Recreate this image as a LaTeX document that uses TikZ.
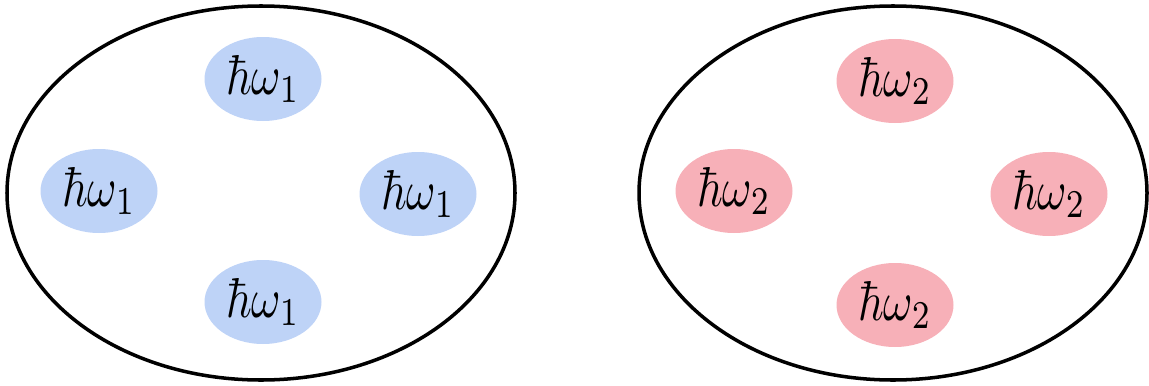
\documentclass[tikz,border=0pt]{standalone}
\usepackage{amsmath}
\usepackage{graphicx}
\usepackage{tikz}
\usetikzlibrary{shapes.geometric}

\definecolor{photonblue}{RGB}{190,211,247}
\definecolor{photonred}{RGB}{247,176,184}

\newcommand{\quantum}[1]{\scalebox{2.55}[3.2]{$\hbar\omega_{#1}$}}

\begin{document}
\begin{tikzpicture}[
    box/.style={ellipse, draw, line width=2pt, minimum width=10.16cm, minimum height=7.48cm, inner sep=0pt},
    photon/.style={ellipse, minimum width=2.34cm, minimum height=1.68cm, inner sep=0pt}
  ]
                \useasboundingbox (0,0) rectangle (22.98,7.7);

                % Boxes
                \node[box] (boxA) at (5.22,3.84) {};
                \node[box] (boxB) at (17.86,3.84) {};

                % Photons, first mode
                \node[photon, fill=photonblue] (a1) at (5.26,6.12) {\quantum{1}};
                \node[photon, fill=photonblue] (a2) at (1.98,3.88) {\quantum{1}};
                \node[photon, fill=photonblue] (a3) at (8.36,3.82) {\quantum{1}};
                \node[photon, fill=photonblue] (a4) at (5.26,1.66) {\quantum{1}};

                % Photons, second mode
                \node[photon, fill=photonred] (b1) at (17.90,6.08) {\quantum{2}};
                \node[photon, fill=photonred] (b2) at (14.68,3.88) {\quantum{2}};
                \node[photon, fill=photonred] (b3) at (20.98,3.82) {\quantum{2}};
                \node[photon, fill=photonred] (b4) at (17.90,1.60) {\quantum{2}};
            \end{tikzpicture}
\end{document}
